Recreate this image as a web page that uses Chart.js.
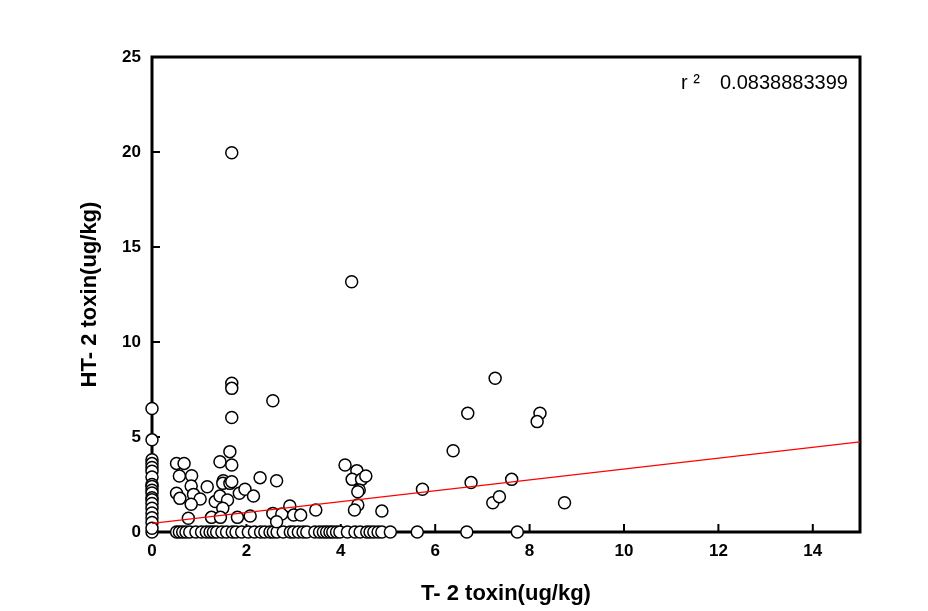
<!DOCTYPE html>
<html>
<head>
<meta charset="utf-8">
<script src="https://cdn.jsdelivr.net/npm/chart.js@4.4.1/dist/chart.umd.min.js"></script>
<style>
  html, body { margin: 0; padding: 0; background: #fff; }
  #wrap { width: 928px; height: 611px; }
</style>
</head>
<body>
<div id="wrap"><canvas id="chart"></canvas></div>
<script>
// samples where HT-2 was 0 (bottom row), T-2 values
const zeroRowT2 = [0, 0.52, 0.58, 0.65, 0.72, 0.8, 0.93, 1.05, 1.15, 1.23, 1.3, 1.37, 1.48, 1.58, 1.7,
    1.78, 1.9, 2.04, 2.17, 2.3, 2.39, 2.5, 2.57, 2.65, 2.78, 2.93, 3.0, 3.1, 3.2, 3.28, 3.45, 3.55,
    3.63, 3.7, 3.77, 3.83, 3.91, 3.98, 4.14, 4.3, 4.41, 4.55, 4.62, 4.7, 4.79, 4.87, 5.05, 5.62, 6.67, 7.74];
// samples where T-2 was 0 (left column), HT-2 values
const zeroColHT2 = [6.5, 4.85, 3.8, 3.6, 3.4, 3.2, 2.9, 2.5, 2.4, 2.2, 2.05, 1.8, 1.7, 1.5, 1.25, 1.0, 0.75, 0.5, 0.2];
// the rest
const t2 = [1.69, 4.23, 1.69, 1.69, 2.56, 1.69, 1.65, 1.69, 1.44, 0.52, 0.68, 0.58, 0.84, 0.83, 1.17,
    1.51, 1.50, 1.65, 1.69, 2.29, 2.64, 0.52, 0.59, 0.88, 1.02, 0.83, 1.34, 1.44, 1.6, 1.85, 1.97,
    2.15, 1.5, 0.77, 1.26, 1.45, 1.81, 2.08, 2.56, 2.75, 2.92, 3.0, 3.15, 2.64,
    7.27, 6.69, 6.38, 6.76, 5.73, 4.09, 4.34, 4.24, 4.44, 4.53, 4.39, 4.36, 4.36, 4.29, 4.87, 3.47,
    7.22, 7.36, 8.22, 8.16, 7.62, 8.74];
const ht2 = [19.96, 13.17, 7.83, 7.56, 6.91, 6.03, 4.23, 3.53, 3.7, 3.61, 3.61, 2.95, 2.96, 2.42, 2.38,
    2.7, 2.56, 2.56, 2.65, 2.86, 2.7, 2.04, 1.77, 1.98, 1.74, 1.46, 1.6, 1.89, 1.68, 2.04, 2.25,
    1.89, 1.25, 0.72, 0.77, 0.77, 0.77, 0.84, 0.98, 0.95, 1.37, 0.89, 0.89, 0.54,
    8.09, 6.25, 4.28, 2.6, 2.25, 3.53, 3.23, 2.77, 2.77, 2.95, 2.21, 2.12, 1.42, 1.16, 1.1, 1.16,
    1.54, 1.86, 6.25, 5.81, 2.77, 1.54];

const fitIntercept = 0.45;
const fitSlope = 0.286;
const rSquared = '0.0838883399';
const xTicks = [0, 2, 4, 6, 8, 10, 12, 14];
const yTicks = [0, 5, 10, 15, 20, 25];

const points = [];
zeroRowT2.forEach(v => points.push({ x: v, y: 0 }));
zeroColHT2.forEach(v => points.push({ x: 0, y: v }));
t2.forEach((v, i) => points.push({ x: v, y: ht2[i] }));

const fitLine = [0, 15].map(x => ({ x: x, y: fitIntercept + fitSlope * x }));

// frame + inward ticks, drawn under the points
const framePlugin = {
    id: 'frame',
    beforeDatasetsDraw(chart) {
        const { ctx, chartArea: a, scales } = chart;
        ctx.save();
        ctx.strokeStyle = '#000';
        ctx.lineWidth = 3;
        ctx.strokeRect(a.left, a.top, a.right - a.left, a.bottom - a.top);
        ctx.lineWidth = 2;
        ctx.beginPath();
        scales.x.ticks.forEach(t => {
            const px = scales.x.getPixelForValue(t.value);
            ctx.moveTo(px, a.bottom);
            ctx.lineTo(px, a.bottom - 8);
        });
        scales.y.ticks.forEach(t => {
            const py = scales.y.getPixelForValue(t.value);
            ctx.moveTo(a.left, py);
            ctx.lineTo(a.left + 8, py);
        });
        ctx.stroke();
        ctx.restore();
    },
    afterDraw(chart) {
        const ctx = chart.ctx;
        ctx.save();
        ctx.fillStyle = '#000';
        ctx.font = '20px "Liberation Sans", Arial, sans-serif';
        ctx.textBaseline = 'middle';
        ctx.textAlign = 'left';
        ctx.fillText('r ²', 681, 83);
        ctx.fillText(rSquared, 720, 83);
        ctx.restore();
    }
};

const tickFont = { family: '"Liberation Sans", Arial, sans-serif', size: 17, weight: 'bold' };
const titleFont = { family: '"Liberation Sans", Arial, sans-serif', size: 22, weight: 'bold' };

new Chart(document.getElementById('chart'), {
    type: 'scatter',
    data: {
        datasets: [{
            type: 'line',
            data: fitLine,
            borderColor: '#ff0000',
            borderWidth: 1.3,
            pointRadius: 0,
            fill: false
        }, {
            data: points,
            pointRadius: 6,
            pointBackgroundColor: '#ffffff',
            pointBorderColor: '#000000',
            pointBorderWidth: 1.5,
            clip: false
        }]
    },
    options: {
        responsive: true,
        maintainAspectRatio: false,
        animation: false,
        layout: { padding: { left: 0, top: 57, right: 68, bottom: 0 } },
        plugins: { legend: { display: false }, tooltip: { enabled: false } },
        scales: {
            x: {
                type: 'linear',
                min: 0,
                max: 15,
                afterBuildTicks: s => { s.ticks = xTicks.map(v => ({ value: v })); },
                afterFit: s => { s.height = 79; },
                grid: { display: false, drawTicks: false },
                border: { display: false },
                ticks: { color: '#000', font: tickFont, padding: 9 },
                title: { display: true, text: 'T- 2 toxin(ug/kg)', color: '#000', font: titleFont, padding: { top: 0, bottom: 4 } }
            },
            y: {
                type: 'linear',
                min: 0,
                max: 25,
                afterBuildTicks: s => { s.ticks = yTicks.map(v => ({ value: v })); },
                afterFit: s => { s.width = 152; },
                grid: { display: false, drawTicks: false },
                border: { display: false },
                ticks: { color: '#000', font: tickFont, padding: 11 },
                title: { display: true, text: 'HT- 2 toxin(ug/kg)', color: '#000', font: titleFont, padding: { top: 77, bottom: 0 } }
            }
        }
    },
    plugins: [framePlugin]
});
</script>
</body>
</html>
